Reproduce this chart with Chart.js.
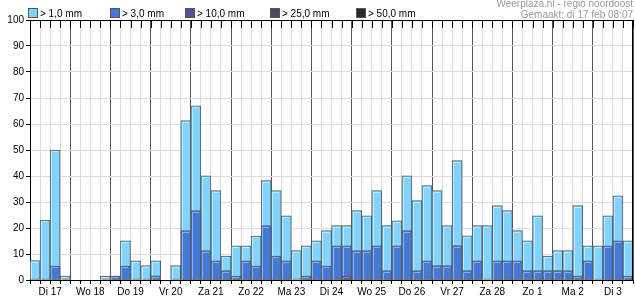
<!DOCTYPE html>
<html><head><meta charset="utf-8">
<script src="https://cdn.jsdelivr.net/npm/chart.js@4/dist/chart.umd.min.js"></script>
<style>html,body{margin:0;padding:0;background:#fff}canvas{display:block}</style>
</head><body>
<canvas id="c" width="635" height="300"></canvas>
<script>
// ---- data ----
const days = ['Di 17','Wo 18','Do 19','Vr 20','Za 21','Zo 22','Ma 23','Di 24','Wo 25','Do 26','Vr 27','Za 28','Zo 1','Ma 2','Di 3'];
const seriesLabels = ['> 1,0 mm','> 3,0 mm','> 10,0 mm','> 25,0 mm','> 50,0 mm'];
const seriesColors = ['#80d4ff','#4479d8','#50509c','#4a4a66','#2a2a2a'];
const highlightColors = ['#bfeaff','#8fb0ea','#9090c4','#8a8aa0','#666666'];
const p1 = [
  7.5, 23, 50, 1.5,
  0, 0, 0, 1.5,
  1.5, 15.1, 7.4, 5.5,
  7.4, 0, 5.5, 61.3,
  67, 40.1, 34.4, 9.2,
  13.1, 13.1, 16.9, 38.2,
  34.4, 24.7, 11.3, 13.1,
  15.1, 19, 20.9, 20.9,
  26.7, 24.7, 34.4, 20.9,
  22.8, 40.1, 30.5, 36.3,
  34.4, 20.9, 45.9, 17,
  20.9, 20.9, 28.6, 26.7,
  19, 15.1, 24.7, 9.2,
  11.3, 11.3, 28.6, 13.1,
  13.1, 24.7, 32.4, 15.1
];
const p3 = [
  0, 0, 5.4, 0,
  0, 0, 0, 0,
  1.5, 5.4, 0, 0,
  1.6, 0, 0, 19,
  26.7, 11.3, 7.4, 3.6,
  1.5, 7.4, 5.4, 20.9,
  9.2, 7.4, 0, 1.5,
  7.4, 5.4, 13.1, 13.1,
  11.3, 11.3, 13.1, 3.6,
  13.1, 19, 3.6, 7.4,
  5.5, 5.5, 13.2, 3.6,
  7.4, 0, 7.4, 7.4,
  7.4, 3.6, 3.6, 3.6,
  3.6, 3.6, 1.5, 7.4,
  0, 13.1, 15.1, 1.5
];
const p10 = new Array(60).fill(0); p10[31] = 1.5;
const p25 = new Array(60).fill(0);
const p50 = new Array(60).fill(0);
const series = [p1, p3, p10, p25, p50];
const slotsPerDay = 4;
const yMax = 100, yStep = 10;

Chart.defaults.font.family = '"Liberation Sans", Arial, sans-serif';
Chart.defaults.font.size = 10;
Chart.defaults.color = '#000';

const datasets = series.map((arr, k) => ({
  label: seriesLabels[k],
  data: arr.map((v, i) => ({x: i + 0.5, y: v})),
  backgroundColor: seriesColors[k],
  highlight: highlightColors[k],
  borderColor: '#5a5a5a',
  borderWidth: 1,
  borderSkipped: false,
  grouped: false,
  order: series.length - k,
  barPercentage: 1,
  categoryPercentage: 1
}));

// inner light bevel line on each bar, drawn from the bar elements' own geometry
const bevel = {
  id: 'bevel',
  afterDatasetDraw(chart, args) {
    const ds = chart.data.datasets[args.index];
    const {ctx} = chart;
    ctx.save();
    ctx.strokeStyle = ds.highlight;
    ctx.lineWidth = 1;
    args.meta.data.forEach(el => {
      const {x, y, base, width} = el.getProps(['x','y','base','width'], true);
      if (base - y < 3) return;
      const l = Math.round(x - width / 2) + 1.5;
      const r = Math.round(x + width / 2) - 1;
      const t = Math.round(y) + 1.5;
      ctx.beginPath();
      ctx.moveTo(l, base); ctx.lineTo(l, t); ctx.lineTo(r - 1, t);
      ctx.stroke();
    });
    ctx.restore();
  }
};

const frame = {
  id: 'frame',
  afterDraw(chart) {
    const {ctx, chartArea: a} = chart;
    const xs = chart.scales.x;
    ctx.save();
    ctx.strokeStyle = '#000';
    ctx.lineWidth = 1;
    ctx.beginPath();
    ctx.moveTo(a.left, a.top + 0.5); ctx.lineTo(a.right, a.top + 0.5);
    ctx.moveTo(a.right - 0.5, a.top); ctx.lineTo(a.right - 0.5, a.bottom);
    for (let i = 0; i <= days.length * slotsPerDay; i++) {
      const px = Math.round(xs.getPixelForValue(i)) + 0.5;
      ctx.moveTo(px, a.top); ctx.lineTo(px, a.top + 8);
    }
    ctx.stroke();
    // legend
    const lx = [28, 110, 185, 270, 356];
    chart.data.datasets.forEach((ds, k) => {
      ctx.fillStyle = ds.backgroundColor;
      ctx.fillRect(lx[k], 8, 10, 10);
      ctx.strokeStyle = '#555';
      ctx.strokeRect(lx[k] + 0.5, 8.5, 9, 9);
      ctx.fillStyle = '#000';
      ctx.font = '10px "Liberation Sans", Arial, sans-serif';
      ctx.textBaseline = 'alphabetic';
      ctx.textAlign = 'left';
      ctx.fillText(ds.label, lx[k] + 12, 17);
    });
    ctx.fillStyle = '#999';
    ctx.textAlign = 'right';
    ctx.fillText('Weerplaza.nl - regio noordoost', 633, 7);
    ctx.fillText('Gemaakt: di 17 feb 08:07', 633, 18);
    ctx.restore();
  }
};

new Chart(document.getElementById('c'), {
  type: 'bar',
  data: { datasets },
  options: {
    responsive: false,
    animation: false,
    layout: { padding: { top: 20, right: 1, left: 0, bottom: 0 } },
    plugins: { legend: { display: false }, tooltip: { enabled: false } },
    scales: {
      x: {
        type: 'linear',
        min: 0, max: days.length * slotsPerDay,
        offset: false,
        afterFit(s) { s.height = 20; },
        ticks: {
          stepSize: 1, autoSkip: false, maxRotation: 0, padding: 2,
          callback: v => (v % slotsPerDay === 2 ? days[(v - 2) / slotsPerDay] : '')
        },
        grid: {
          offset: false,
          color: c => (c.tick && c.tick.value % slotsPerDay === 0 ? '#555' : '#dcdcdc'),
          tickColor: '#000', tickLength: 4
        },
        border: { color: '#000' }
      },
      y: {
        min: 0, max: yMax,
        afterFit(s) { s.width = 30; },
        ticks: { stepSize: yStep, padding: 2 },
        grid: { color: '#dcdcdc', tickColor: '#000', tickLength: 4 },
        border: { color: '#000' }
      }
    }
  },
  plugins: [bevel, frame]
});
</script>
</body></html>
